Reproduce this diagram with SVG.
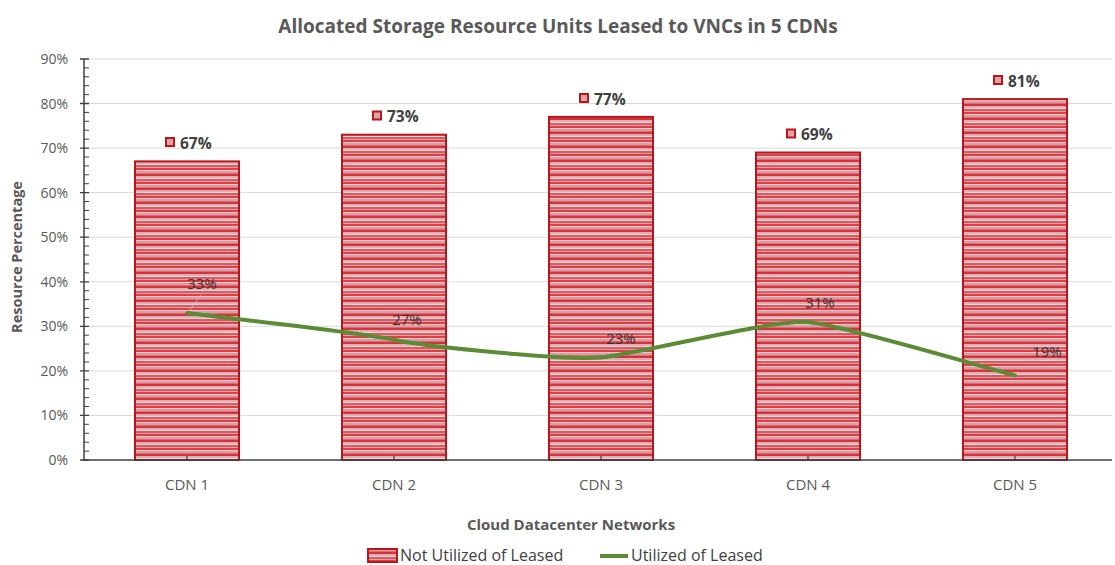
<svg xmlns="http://www.w3.org/2000/svg" width="1115" height="565" viewBox="0 0 1115 565">
<style>
text{font-family:"Open Sans","Liberation Sans","DejaVu Sans",sans-serif;fill:#595959}
.title{font-size:19px;font-weight:bold}
.tick{font-size:14px;text-anchor:end}
.cat{font-size:15px;text-anchor:middle}
.axt{font-size:15px;font-weight:bold;text-anchor:middle}
.bar{fill:url(#stripes);stroke:#b8161c;stroke-width:2}
.mk{fill:#d9a3a8;stroke:#c0141c;stroke-width:2}
.bl{font-size:15.5px;font-weight:bold;fill:#404040}
.ll{font-size:15px;fill:#3a3030}
.grid{stroke:#d9d9d9;stroke-width:1}
.leg{font-size:16px;fill:#404040}
</style>
<defs>
<pattern id="stripes" patternUnits="userSpaceOnUse" x="0" y="0" width="8" height="14">
<rect width="8" height="14" fill="#e9c2c6"/>
<rect y="0" width="8" height="2" fill="#e23c44"/>
<rect y="2" width="8" height="1" fill="#f4c4c8"/>
<rect y="3" width="8" height="2" fill="#c9a4aa"/>
<rect y="5" width="8" height="1" fill="#e8666c"/>
<rect y="6" width="8" height="2" fill="#dc3038"/>
<rect y="8" width="8" height="2" fill="#d6b2b6"/>
<rect y="10" width="8" height="1" fill="#f0d8da"/>
<rect y="11" width="8" height="2" fill="#e5565c"/>
<rect y="13" width="8" height="1" fill="#cfa6ac"/>
</pattern>
</defs>
<rect width="1115" height="565" fill="#ffffff"/>
<text class="title" x="558" y="33" text-anchor="middle">Allocated Storage Resource Units Leased to VNCs in 5 CDNs</text>

<g id="grid">
<line class="grid" x1="84" y1="415.4" x2="1112" y2="415.4"/>
<line class="grid" x1="84" y1="370.9" x2="1112" y2="370.9"/>
<line class="grid" x1="84" y1="326.3" x2="1112" y2="326.3"/>
<line class="grid" x1="84" y1="281.8" x2="1112" y2="281.8"/>
<line class="grid" x1="84" y1="237.2" x2="1112" y2="237.2"/>
<line class="grid" x1="84" y1="192.6" x2="1112" y2="192.6"/>
<line class="grid" x1="84" y1="148.1" x2="1112" y2="148.1"/>
<line class="grid" x1="84" y1="103.5" x2="1112" y2="103.5"/>
<line class="grid" x1="84" y1="59" x2="1112" y2="59"/>
</g>

<g id="y-axis" stroke="#404040">
<line x1="84" y1="59" x2="84" y2="461" stroke-width="1.5"/>
<path d="M80 460H89M80 415.4H89M80 370.9H89M80 326.3H89M80 281.8H89M80 237.2H89M80 192.6H89M80 148.1H89M80 103.5H89M80 59H89" stroke-width="1.3"/>
<path d="M84 451.1H89M84 442.2H89M84 433.3H89M84 424.3H89M84 406.5H89M84 397.6H89M84 388.7H89M84 379.8H89M84 362H89M84 353H89M84 344.1H89M84 335.2H89M84 317.4H89M84 308.5H89M84 299.6H89M84 290.7H89M84 272.8H89M84 263.9H89M84 255H89M84 246.1H89M84 228.3H89M84 219.4H89M84 210.5H89M84 201.5H89M84 183.7H89M84 174.8H89M84 165.9H89M84 157H89M84 139.2H89M84 130.2H89M84 121.3H89M84 112.4H89M84 94.6H89M84 85.7H89M84 76.8H89M84 67.9H89" stroke-width="1"/>
</g>
<g id="y-labels">
<text class="tick" x="68" y="465">0%</text>
<text class="tick" x="68" y="420.4">10%</text>
<text class="tick" x="68" y="375.9">20%</text>
<text class="tick" x="68" y="331.3">30%</text>
<text class="tick" x="68" y="286.8">40%</text>
<text class="tick" x="68" y="242.2">50%</text>
<text class="tick" x="68" y="197.6">60%</text>
<text class="tick" x="68" y="153.1">70%</text>
<text class="tick" x="68" y="108.5">80%</text>
<text class="tick" x="68" y="64">90%</text>
</g>
<text class="axt" transform="translate(22,257) rotate(-90)" style="font-size:14.5px">Resource Percentage</text>

<g id="cdn1">
<rect class="bar" x="135" y="161.4" width="104" height="298.6"/>
<rect class="mk" x="166" y="138" width="8" height="8"/>
<text class="bl" x="180" y="148.5">67%</text>
</g>
<g id="cdn2">
<rect class="bar" x="342" y="134.7" width="104" height="325.3"/>
<rect class="mk" x="373" y="111.5" width="8" height="8"/>
<text class="bl" x="387" y="122">73%</text>
</g>
<g id="cdn3">
<rect class="bar" x="549" y="116.9" width="104" height="343.1"/>
<rect class="mk" x="580" y="94" width="8" height="8"/>
<text class="bl" x="594" y="104.5">77%</text>
</g>
<g id="cdn4">
<rect class="bar" x="756" y="152.5" width="104" height="307.5"/>
<rect class="mk" x="787" y="129.5" width="8" height="8"/>
<text class="bl" x="801" y="140">69%</text>
</g>
<g id="cdn5">
<rect class="bar" x="963" y="99.1" width="104" height="360.9"/>
<rect class="mk" x="994" y="76" width="8" height="8"/>
<text class="bl" x="1008" y="86.5">81%</text>
</g>

<g id="x-axis" stroke="#404040">
<line x1="84" y1="460" x2="1112" y2="460" stroke-width="1.5"/>
<path d="M187 456V460M394 456V460M601 456V460M808 456V460M1015 456V460" stroke-width="1.2"/>
</g>
<g id="x-labels">
<text class="cat" x="187" y="490">CDN 1</text>
<text class="cat" x="394" y="490">CDN 2</text>
<text class="cat" x="601" y="490">CDN 3</text>
<text class="cat" x="808" y="490">CDN 4</text>
<text class="cat" x="1015" y="490">CDN 5</text>
</g>
<text class="axt" x="571" y="530">Cloud Datacenter Networks</text>

<g id="connectors">
<line x1="189" y1="311" x2="201" y2="295" stroke="#d9b0b4" stroke-width="1"/>
<path d="M187 313C221.5 317.5 359.5 332.3 394 339.7C428.5 347.1 566.5 360.4 601 357.5C635.5 354.5 773.5 319 808 322C842.5 325 980.5 366.5 1015 375.4" fill="none" stroke="#5b8c35" stroke-width="4" stroke-linecap="round"/>
</g>
<g id="line-labels">
<text class="ll" x="202" y="289" text-anchor="middle">33%</text>
<text class="ll" x="407" y="325" text-anchor="middle">27%</text>
<text class="ll" x="621" y="344" text-anchor="middle">23%</text>
<text class="ll" x="820" y="308" text-anchor="middle">31%</text>
<text class="ll" x="1047" y="357" text-anchor="middle">19%</text>
</g>

<g id="legend">
<rect x="368" y="549" width="29" height="13" fill="url(#stripes)" stroke="#c0141c" stroke-width="2"/>
<text class="leg" x="400" y="561">Not Utilized of Leased</text>
<line x1="600" y1="556" x2="628" y2="556" stroke="#5b8c35" stroke-width="4"/>
<text class="leg" x="631" y="561">Utilized of Leased</text>
</g>
</svg>
